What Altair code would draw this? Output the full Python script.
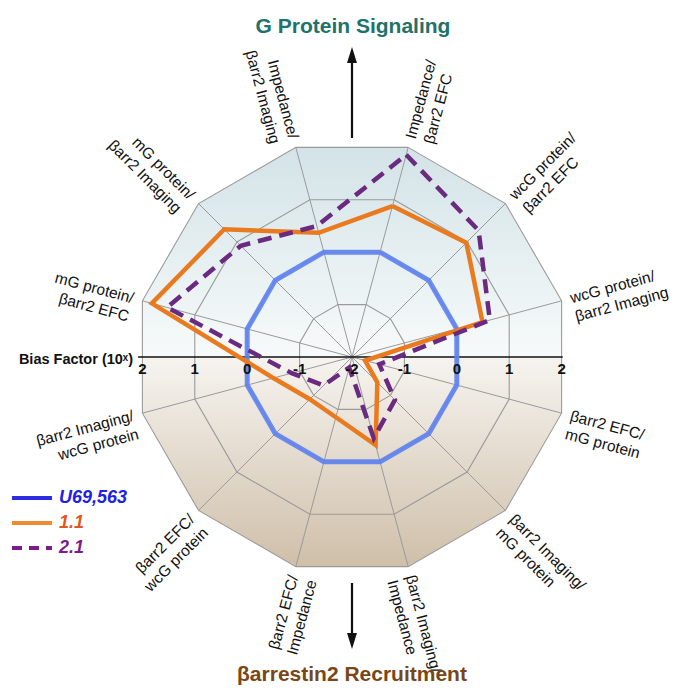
import altair as alt
import pandas as pd

# ---------------- data ----------------
axis_labels = [
    "Impedance/\nβarr2 EFC",
    "wcG protein/\nβarr2 EFC",
    "wcG protein/\nβarr2 Imaging",
    "βarr2 EFC/\nmG protein",
    "βarr2 Imaging/\nmG protein",
    "βarr2 Imaging/\nImpedance",
    "βarr2 EFC/\nImpedance",
    "βarr2 EFC/\nwcG protein",
    "βarr2 Imaging/\nwcG protein",
    "mG protein/\nβarr2 EFC",
    "mG protein/\nβarr2 Imaging",
    "Impedance/\nβarr2 Imaging",
]
axis_angles = [15, 45, 75, 105, 135, 165, 195, 225, 255, 285, 315, 345]
series_names = ["U69,563", "1.1", "2.1"]
u69563 = [0, 0, 0, 0, 0, 0, 0, 0, 0, 0, 0, 0]
cmpd_11 = [0.88, 0.98, 0.49, -1.75, -1.34, -0.32, -0.85, -0.90, -0.50, 1.82, 1.33, 0.37]
cmpd_21 = [1.86, 1.30, 0.63, -1.48, -0.88, -0.45, -1.80, -1.26, -0.85, 1.53, 0.90, 0.50]
ring_values = [-1, 0, 1, 2]
tick_labels = ["2", "1", "0", "-1", "-2", "-1", "0", "1", "2"]
tick_values = [2, 1, 0, -1, -2, -1, 0, 1, 2]
tick_sides = [-1, -1, -1, -1, 0, 1, 1, 1, 1]

# ---------------- tables ----------------
series_vals = [u69563, cmpd_11, cmpd_21]
series_rows = []
for name, vals in zip(series_names, series_vals):
    for i in range(13):
        k = i % 12
        series_rows.append({"series": name, "order": i, "angle": axis_angles[k], "value": vals[k]})
series_df = pd.DataFrame(series_rows)

ring_rows = []
for rv in ring_values:
    for i in range(13):
        ring_rows.append({"ring": rv, "order": i, "angle": axis_angles[i % 12], "value": rv})
ring_df = pd.DataFrame(ring_rows)

spoke_df = pd.DataFrame({"angle": axis_angles, "value": [ring_values[-1]] * 12, "label": axis_labels})
tick_df = pd.DataFrame({"label": tick_labels, "value": tick_values, "side": tick_sides})

# ---------------- layout ----------------
W, H = 663, 678
PX = 54.25  # pixels per unit
CX, CY = 344, 349  # centre inside the view (pixels)
XD = [-CX / PX, (W - CX) / PX]
YD = [-(H - CY) / PX, CY / PX]


def X(f):
    return alt.X(f, type="quantitative", scale=alt.Scale(domain=XD, nice=False, zero=False), axis=None)


def Y(f):
    return alt.Y(f, type="quantitative", scale=alt.Scale(domain=YD, nice=False, zero=False), axis=None)


def py(page_y):
    return (CY - (page_y - 8)) / PX


def px(page_x):
    return ((page_x - 8) - CX) / PX


polar_x = "(datum.value + 2) * sin(datum.angle * PI / 180)"
polar_y = "(datum.value + 2) * cos(datum.angle * PI / 180)"
FONT = "Liberation Sans, Arial, sans-serif"

# background halves
grad_top = alt.LinearGradient(
    gradient="linear", x1=0, x2=0, y1=0, y2=1,
    stops=[alt.GradientStop(color="#d3e3e7", offset=0), alt.GradientStop(color="#f7fafa", offset=1)],
)
grad_bot = alt.LinearGradient(
    gradient="linear", x1=0, x2=0, y1=0, y2=1,
    stops=[alt.GradientStop(color="#f6f4f0", offset=0), alt.GradientStop(color="#cfbfa9", offset=1)],
)
area_df = spoke_df[["angle", "value"]].copy()
area_df["half"] = ["top" if a < 90 or a > 270 else "bottom" for a in axis_angles]
base_area = alt.Chart(area_df).transform_calculate(x=polar_x, y=polar_y, y0="0")
top_area = base_area.transform_filter(alt.datum.half == "top").mark_area(color=grad_top).encode(
    x=X("x"), y=Y("y"), y2=alt.Y2("y0")
)
bot_area = base_area.transform_filter(alt.datum.half == "bottom").mark_area(color=grad_bot).encode(
    x=X("x"), y=Y("y"), y2=alt.Y2("y0")
)

rings = alt.Chart(ring_df).transform_calculate(x=polar_x, y=polar_y).mark_line(
    color="#9a9a9a", strokeWidth=1.1
).encode(x=X("x"), y=Y("y"), detail="ring:N", order="order:Q")

base_sp = alt.Chart(spoke_df).transform_calculate(x=polar_x, y=polar_y, z="0")
spokes = base_sp.mark_rule(color="#9a9a9a", strokeWidth=1).encode(
    x=X("z"), y=Y("z"), x2=alt.X2("x"), y2=alt.Y2("y"),
)

hline = alt.Chart(pd.DataFrame({"a": [-2], "b": [2]})).transform_calculate(
    xa="-(2 + 2) * cos(15 * PI / 180) - 0.08", xb="(2 + 2) * cos(15 * PI / 180) + 0.02", y0="0"
).mark_rule(color="#111111", strokeWidth=1.3).encode(x=X("xa"), x2=alt.X2("xb"), y=Y("y0"))

line_styles = {
    "U69,563": dict(color="#5f82f0", strokeWidth=5, opacity=0.92),
    "1.1": dict(color="#ea7a1e", strokeWidth=4.5),
    "2.1": dict(color="#6a2a80", strokeWidth=4.5, strokeDash=[14, 8]),
}
series_layers = []
for name in series_names:
    series_layers.append(
        alt.Chart(series_df).transform_filter(alt.datum.series == name)
        .transform_calculate(x=polar_x, y=polar_y)
        .mark_line(strokeJoin="miter", **line_styles[name])
        .encode(x=X("x"), y=Y("y"), order="order:Q")
    )

ticks = alt.Chart(tick_df).transform_calculate(
    x="datum.side * (datum.value + 2) * cos(15 * PI / 180)", y=str(-0.22)
).mark_text(font=FONT, fontSize=15, fontWeight="bold", color="#111111", baseline="middle").encode(
    x=X("x"), y=Y("y"), text="label:N"
)

lab_base = alt.Chart(spoke_df).transform_calculate(
    lx="4.17 * sin(datum.angle * PI / 180)",
    ly="4.17 * cos(datum.angle * PI / 180)",
    rot="datum.angle < 180 ? (datum.angle - 90 + 360) % 360 : (datum.angle - 270 + 360) % 360",
)
labels_r = lab_base.transform_filter("datum.angle < 180").mark_text(
    font=FONT, fontSize=15.5, lineBreak="\n", lineHeight=19, align="left", baseline="middle", color="#111111"
).encode(x=X("lx"), y=Y("ly"), text="label:N", angle=alt.Angle("rot:Q", scale=None))
labels_l = lab_base.transform_filter("datum.angle > 180").mark_text(
    font=FONT, fontSize=15.5, lineBreak="\n", lineHeight=19, align="right", baseline="middle", color="#111111"
).encode(x=X("lx"), y=Y("ly"), text="label:N", angle=alt.Angle("rot:Q", scale=None))

# annotations
ann_df = pd.DataFrame({
    "text": ["G Protein Signaling", "βarrestin2 Recruitment"],
    "x": [px(353), px(352)],
    "y": [py(33), py(681)],
    "c": ["#21726a", "#7a4616"],
})
titles = alt.Chart(ann_df).mark_text(font=FONT, fontSize=21, fontWeight="bold", baseline="alphabetic").encode(
    x=X("x"), y=Y("y"), text="text:N", color=alt.Color("c:N", scale=None)
)
bias = alt.Chart(pd.DataFrame({"t": ["Bias Factor (10ˣ)"], "x": [px(133)], "y": [py(360)]})).mark_text(
    font=FONT, fontSize=14.5, fontWeight="bold", align="right", baseline="middle", color="#111111"
).encode(x=X("x"), y=Y("y"), text="t:N")

arrow_df = pd.DataFrame({"x": [px(352), px(352)], "y1": [py(138), py(583)], "y2": [py(60), py(636)]})
shafts = alt.Chart(arrow_df).mark_rule(color="#111111", strokeWidth=2.2).encode(
    x=X("x"), y=Y("y1"), y2=alt.Y2("y2")
)
head_up = alt.Chart(pd.DataFrame({"x": [px(352)], "y": [py(55)]})).mark_point(
    shape="M0,-1L0.62,1L-0.62,1Z", size=256, filled=True, color="#111111", opacity=1
).encode(x=X("x"), y=Y("y"))
head_dn = alt.Chart(pd.DataFrame({"x": [px(352)], "y": [py(641)]})).mark_point(
    shape="M0,1L0.62,-1L-0.62,-1Z", size=256, filled=True, color="#111111", opacity=1
).encode(x=X("x"), y=Y("y"))

leg_df = pd.DataFrame({
    "name": series_names,
    "x1": [px(12)] * 3, "x2": [px(52)] * 3, "tx": [px(59)] * 3,
    "y": [py(498), py(523), py(548)],
})
leg_line_colors = {"U69,563": "#2b2be0", "1.1": "#f08a2c", "2.1": "#7a1c8c"}
leg_text_colors = {"U69,563": "#2020e6", "1.1": "#e5561c", "2.1": "#7a1c8c"}
leg_layers = []
for name in series_names:
    d = leg_df[leg_df["name"] == name]
    kw = dict(color=leg_line_colors[name], strokeWidth=4)
    if name == "2.1":
        kw["strokeDash"] = [10, 7]
    leg_layers.append(alt.Chart(d).mark_rule(**kw).encode(x=X("x1"), x2=alt.X2("x2"), y=Y("y")))
    leg_layers.append(
        alt.Chart(d).mark_text(font=FONT, fontSize=18, fontWeight="bold", fontStyle="italic",
                               align="left", baseline="middle", color=leg_text_colors[name])
        .encode(x=X("tx"), y=Y("y"), text="name:N")
    )

chart = alt.layer(
    top_area, bot_area, rings, spokes, hline, *series_layers, ticks, labels_r, labels_l,
    titles, bias, shafts, head_up, head_dn, *leg_layers
).properties(width=W, height=H, padding=0, autosize="none", background="white").configure_view(stroke=None)

chart.save("out.html", embed_options={"renderer": "svg", "actions": False})
